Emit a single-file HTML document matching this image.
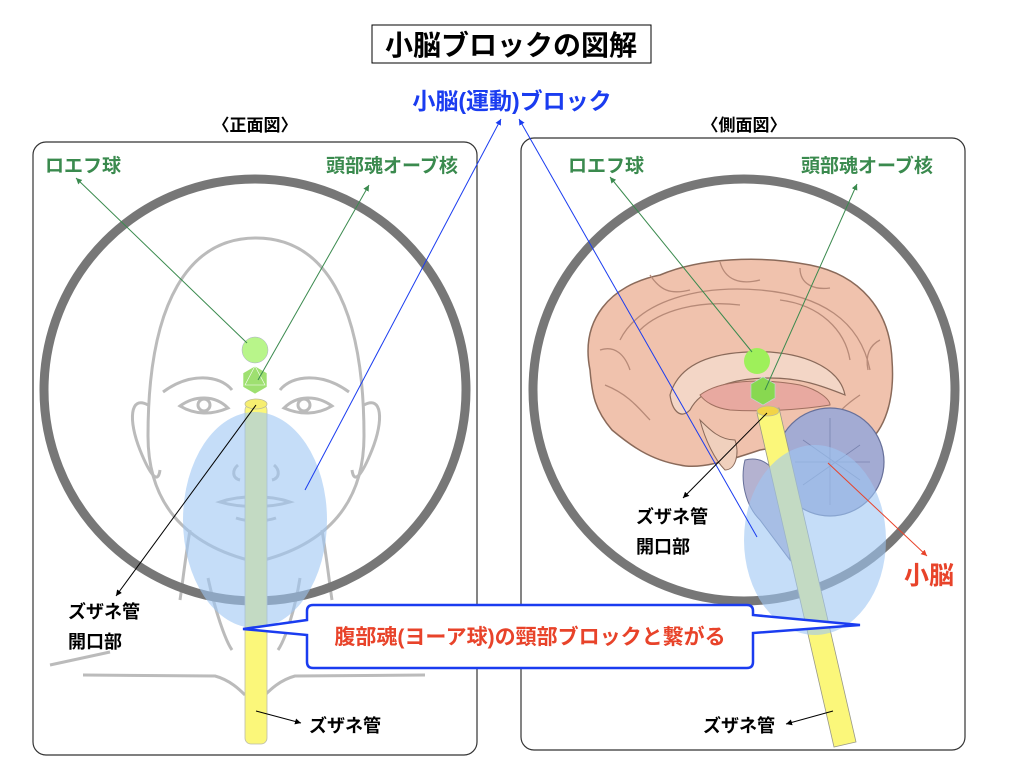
<!DOCTYPE html>
<html><head><meta charset="utf-8"><style>
html,body{margin:0;padding:0;background:#fff;}
svg{display:block;}
text{font-family:"Liberation Sans","Noto Sans CJK JP",sans-serif;font-weight:bold;}
</style></head><body>
<svg width="1024" height="768" viewBox="0 0 1024 768" xmlns="http://www.w3.org/2000/svg">
<defs>
<marker id="ag" markerWidth="8" markerHeight="8" refX="6" refY="3" orient="auto"><path d="M0,0 L6,3 L0,6 z" fill="#3a8a4e"/></marker>
<marker id="ab" markerWidth="8" markerHeight="8" refX="6" refY="3" orient="auto"><path d="M0,0 L6,3 L0,6 z" fill="#1a3cf0"/></marker>
<marker id="ak" markerWidth="8" markerHeight="8" refX="6" refY="3" orient="auto"><path d="M0,0 L6,3 L0,6 z" fill="#000"/></marker>
<marker id="ar" markerWidth="8" markerHeight="8" refX="6" refY="3" orient="auto"><path d="M0,0 L6,3 L0,6 z" fill="#e8432a"/></marker>
</defs>

<rect x="372" y="25" width="279" height="38" fill="#fff" stroke="#000" stroke-width="1"/>
<text x="511" y="55" font-size="28" text-anchor="middle" fill="#000">小脳ブロックの図解</text>
<text x="512" y="109" font-size="23" text-anchor="middle" fill="#1a3cf0">小脳(運動)ブロック</text>
<text x="255" y="131" font-size="17" text-anchor="middle" fill="#000">〈正面図〉</text>
<text x="744" y="131" font-size="17" text-anchor="middle" fill="#000">〈側面図〉</text>

<rect x="33" y="142" width="444" height="613" rx="13" fill="none" stroke="#333" stroke-width="1.2"/>
<rect x="521" y="138" width="444" height="612" rx="13" fill="none" stroke="#333" stroke-width="1.2"/>

<g fill="none" stroke="#bbb" stroke-width="3">
<path d="M148,436 C148,300 190,238 256,238 C322,238 364,300 364,436 C364,500 330,545 256,562 C182,545 148,500 148,436 Z"/>
<path d="M148,405 C130,395 128,420 140,450 C150,475 158,485 160,470"/>
<path d="M364,405 C382,395 384,420 372,450 C362,475 354,485 352,470"/>
<path d="M163,392 C190,372 220,375 232,390"/>
<path d="M349,392 C322,372 292,375 280,390"/>
<path d="M180,406 C195,395 215,395 228,408 C212,415 195,415 180,406Z"/>
<path d="M332,406 C317,395 297,395 284,408 C300,415 317,415 332,406Z"/>
<circle cx="204" cy="405" r="6"/><circle cx="304" cy="405" r="6"/>
<path d="M238,465 C232,470 232,478 240,480"/><path d="M274,465 C280,470 280,478 272,480"/>
<path d="M220,502 C240,495 270,495 290,502 C270,508 240,508 220,502Z"/>
<path d="M236,518 C248,522 264,522 276,518"/>
<path d="M190,530 C185,560 183,580 180,600"/><path d="M322,530 C327,560 329,580 332,600"/>
<path d="M208,578 C215,610 225,640 232,650"/><path d="M300,578 C295,610 285,640 278,650"/>
<path d="M50,665 L110,652"/><path d="M83,675 L215,676 C230,680 240,690 245,695"/><path d="M425,675 L295,676 C280,680 270,690 265,695"/>
</g>
<circle cx="255" cy="390" r="211" fill="none" stroke="#777" stroke-width="9"/>
<rect x="245" y="404" width="22" height="340" rx="6" fill="#fbf77a" stroke="#bba" stroke-width="0.8"/>
<ellipse cx="256" cy="404" rx="11" ry="5" fill="#f6ee70" stroke="#bb9" stroke-width="0.8"/>
<ellipse cx="255" cy="520" rx="72" ry="108" fill="#9fc7f3" fill-opacity="0.6"/>
<circle cx="255" cy="350" r="13" fill="#b8f58a" stroke="#aac" stroke-width="0.5"/>
<polygon points="255,366 267,373 267,387 255,394 243,387 243,373" fill="#9ee070" stroke="#fff" stroke-width="0.6"/>
<path d="M255,366 L245,385 L265,385 Z" fill="none" stroke="#fff" stroke-width="0.6"/>
<text x="45" y="172" font-size="19" fill="#3a8a4e">ロエフ球</text>
<text x="326" y="172" font-size="19" fill="#3a8a4e">頭部魂オーブ核</text>
<line x1="247" y1="343" x2="76" y2="178" stroke="#3a8a4e" stroke-width="1" marker-end="url(#ag)"/>
<line x1="258" y1="380" x2="369" y2="185" stroke="#3a8a4e" stroke-width="1" marker-end="url(#ag)"/>
<line x1="305" y1="490" x2="501" y2="119" stroke="#1a3cf0" stroke-width="1" marker-end="url(#ab)"/>
<line x1="256" y1="405" x2="116" y2="596" stroke="#000" stroke-width="1" marker-end="url(#ak)"/>
<text x="68" y="618" font-size="18" fill="#000">ズザネ管</text>
<text x="68" y="648" font-size="18" fill="#000">開口部</text>
<line x1="256" y1="711" x2="301" y2="723" stroke="#000" stroke-width="1" marker-end="url(#ak)"/>
<text x="309" y="732" font-size="18" fill="#000">ズザネ管</text>

<circle cx="744" cy="390" r="211" fill="none" stroke="#777" stroke-width="9"/>
<path d="M590,370 C580,320 610,285 660,275 C700,258 760,255 810,265 C860,275 890,310 892,360 C895,400 885,430 865,445 C830,440 790,445 760,450 C730,460 700,470 680,465 C650,460 630,445 612,430 C595,410 592,395 590,370Z" fill="#f0c2ad" stroke="#8a6a5a" stroke-width="1.5"/>
<g fill="none" stroke="#b78a78" stroke-width="1.3">
<path d="M620,340 C640,300 700,285 760,290 C820,295 860,320 870,370"/>
<path d="M640,330 C660,310 700,300 740,305"/><path d="M780,300 C820,305 845,330 850,360"/>
<path d="M605,385 C630,395 640,410 650,420"/><path d="M860,395 C845,405 835,415 830,425"/>
<path d="M650,275 C660,290 670,295 690,290"/><path d="M720,262 C725,280 740,285 760,280"/><path d="M800,268 C800,285 815,290 830,288"/>
<path d="M600,350 C615,345 625,355 630,370"/><path d="M880,340 C870,345 865,355 868,370"/>
</g>
<path d="M670,395 C680,360 720,350 770,352 C810,355 840,370 845,395 C820,385 800,378 770,378 C730,378 700,390 690,410 C680,420 672,410 670,395Z" fill="#f3d6c6" stroke="#8a6a5a" stroke-width="1.2"/>
<path d="M700,395 C720,380 760,378 800,385 C820,390 830,400 830,405 C800,410 760,412 730,410 C715,408 705,402 700,395Z" fill="#e8a9a0" stroke="#a07060" stroke-width="1"/>
<path d="M700,420 C710,430 720,440 735,440 C740,455 735,470 725,470 C715,460 705,440 700,420Z" fill="#f0d0bd" stroke="#8a6a5a" stroke-width="1"/>
<circle cx="830" cy="462" r="54" fill="#a3abd3" stroke="#67709a" stroke-width="1.2"/>
<path d="M745,460 C765,455 780,470 785,500 L790,560 L760,520 C745,505 740,480 745,460Z" fill="#b4b2d0" stroke="#67709a" stroke-width="1"/>
<g stroke="#7a84b0" stroke-width="0.8" fill="none">
<path d="M795,462 L870,462"/><path d="M803,440 L860,480"/><path d="M803,485 L860,445"/><path d="M830,418 L830,505"/>
</g>
<polygon points="757,413 779,408 856,742 834,747" fill="#fbf77a" stroke="#998" stroke-width="0.8"/>
<ellipse cx="768" cy="411" rx="11" ry="5" fill="#f2d447" stroke="#bb9" stroke-width="0.8"/>
<ellipse cx="815" cy="540" rx="71" ry="95" fill="#9fc7f3" fill-opacity="0.6"/>
<circle cx="757" cy="361" r="13" fill="#9ef05a"/>
<polygon points="763,377 775,384 775,398 763,405 751,398 751,384" fill="#88d850" stroke="#bdd" stroke-width="0.6"/>
<text x="568" y="172" font-size="19" fill="#3a8a4e">ロエフ球</text>
<text x="801" y="172" font-size="19" fill="#3a8a4e">頭部魂オーブ核</text>
<line x1="752" y1="352" x2="610" y2="177" stroke="#3a8a4e" stroke-width="1" marker-end="url(#ag)"/>
<line x1="765" y1="390" x2="857" y2="184" stroke="#3a8a4e" stroke-width="1" marker-end="url(#ag)"/>
<line x1="757" y1="537" x2="519" y2="119" stroke="#1a3cf0" stroke-width="1" marker-end="url(#ab)"/>
<line x1="767" y1="413" x2="683" y2="498" stroke="#000" stroke-width="1" marker-end="url(#ak)"/>
<text x="636" y="523" font-size="18" fill="#000">ズザネ管</text>
<text x="636" y="553" font-size="18" fill="#000">開口部</text>
<line x1="828" y1="463" x2="927" y2="556" stroke="#e8432a" stroke-width="1" marker-end="url(#ar)"/>
<text x="904" y="584" font-size="25" fill="#e8432a">小脳</text>
<line x1="833" y1="711" x2="786" y2="724" stroke="#000" stroke-width="1" marker-end="url(#ak)"/>
<text x="703" y="732" font-size="18" fill="#000">ズザネ管</text>

<path d="M313,605 L747,605 Q753,605 753,611 L753,615 L860,625 L753,633 L753,662 Q753,668 747,668 L313,668 Q307,668 307,662 L307,635 L243,629 L307,620 L307,611 Q307,605 313,605Z" fill="#fff" stroke="#1a3cf0" stroke-width="2.5"/>
<text x="530" y="644" font-size="21" text-anchor="middle" fill="#e8432a">腹部魂(ヨーア球)の頸部ブロックと繋がる</text>
</svg>
</body></html>
